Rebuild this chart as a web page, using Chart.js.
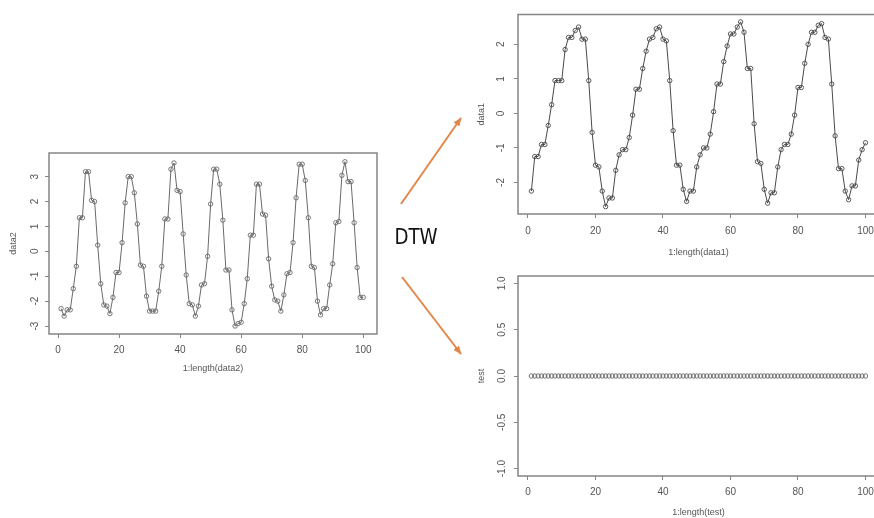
<!DOCTYPE html>
<html>
<head>
<meta charset="utf-8">
<script src="https://cdn.jsdelivr.net/npm/chart.js@4.4.1/dist/chart.umd.min.js"></script>
<style>
  html, body { margin: 0; padding: 0; background: #fff; }
  body { position: relative; width: 874px; height: 518px; overflow: hidden; }
  canvas { position: absolute; }
  svg { position: absolute; left: 0; top: 0; }
</style>
</head>
<body>
<canvas id="data2Chart" width="395" height="240" style="left:0;top:140px;width:395px;height:240px"></canvas>
<canvas id="data1Chart" width="420" height="265" style="left:470px;top:0;width:420px;height:265px"></canvas>
<canvas id="testChart" width="420" height="270" style="left:470px;top:262px;width:420px;height:270px"></canvas>

<svg width="874" height="518">
  <defs>
    <marker id="head" markerWidth="9" markerHeight="8" refX="8" refY="4" orient="auto" markerUnits="userSpaceOnUse">
      <path d="M0,0.5 L9,4 L0,7.5 z" fill="#e2874a"/>
    </marker>
  </defs>
  <line x1="401" y1="204" x2="461" y2="118" stroke="#e2874a" stroke-width="2" marker-end="url(#head)"/>
  <line x1="402" y1="277" x2="461" y2="354" stroke="#e2874a" stroke-width="2" marker-end="url(#head)"/>
  <text transform="translate(416,244) scale(0.83,1)" text-anchor="middle" font-family="DejaVu Sans" font-size="22" fill="#111">DTW</text>
</svg>

<script>
// series (index 1..100)
const data2 = [
    -2.3, -2.6, -2.35, -2.35, -1.5, -0.6, 1.35, 1.35, 3.2, 3.2,
    2.05, 2.0, 0.25, -1.3, -2.15, -2.2, -2.5, -1.85, -0.85, -0.85,
    0.35, 1.95, 3.0, 3.0, 2.35, 1.1, -0.55, -0.6, -1.8, -2.4,
    -2.4, -2.4, -1.6, -0.6, 1.3, 1.3, 3.3, 3.55, 2.45, 2.4,
    0.7, -0.95, -2.1, -2.15, -2.6, -2.2, -1.35, -1.3, -0.2, 1.9,
    3.3, 3.3, 2.7, 1.25, -0.75, -0.75, -2.35, -3.0, -2.9, -2.85,
    -2.1, -1.1, 0.65, 0.65, 2.7, 2.7, 1.5, 1.45, -0.3, -1.4,
    -1.95, -2.0, -2.4, -1.75, -0.9, -0.85, 0.35, 2.15, 3.5, 3.5,
    2.85, 1.35, -0.6, -0.65, -2.0, -2.55, -2.3, -2.3, -1.35, -0.5,
    1.15, 1.2, 3.05, 3.6, 2.8, 2.8, 1.15, -0.65, -1.85, -1.85
];

const data1 = [
    -2.25, -1.25, -1.25, -0.9, -0.9, -0.35, 0.25, 0.95, 0.95, 0.95,
    1.85, 2.2, 2.2, 2.4, 2.5, 2.15, 2.15, 0.95, -0.55, -1.5,
    -1.55, -2.25, -2.7, -2.45, -2.45, -1.65, -1.2, -1.05, -1.05, -0.7,
    -0.05, 0.7, 0.7, 1.3, 1.8, 2.15, 2.2, 2.45, 2.5, 2.15,
    2.1, 0.95, -0.5, -1.5, -1.5, -2.2, -2.55, -2.25, -2.25, -1.55,
    -1.2, -1.0, -1.0, -0.6, 0.05, 0.85, 0.85, 1.5, 1.95, 2.3,
    2.3, 2.5, 2.65, 2.35, 1.3, 1.3, -0.3, -1.4, -1.45, -2.2,
    -2.6, -2.3, -2.3, -1.55, -1.05, -0.9, -0.9, -0.6, -0.05, 0.75,
    0.75, 1.45, 2.0, 2.35, 2.35, 2.55, 2.6, 2.2, 2.15, 0.85,
    -0.65, -1.6, -1.6, -2.25, -2.5, -2.1, -2.1, -1.35, -1.05, -0.85
];

const test = [
    0, 0, 0, 0, 0, 0, 0, 0, 0, 0,
    0, 0, 0, 0, 0, 0, 0, 0, 0, 0,
    0, 0, 0, 0, 0, 0, 0, 0, 0, 0,
    0, 0, 0, 0, 0, 0, 0, 0, 0, 0,
    0, 0, 0, 0, 0, 0, 0, 0, 0, 0,
    0, 0, 0, 0, 0, 0, 0, 0, 0, 0,
    0, 0, 0, 0, 0, 0, 0, 0, 0, 0,
    0, 0, 0, 0, 0, 0, 0, 0, 0, 0,
    0, 0, 0, 0, 0, 0, 0, 0, 0, 0,
    0, 0, 0, 0, 0, 0, 0, 0, 0, 0
];

const xTicks = [0, 20, 40, 60, 80, 100];
const data2Ticks = [-3, -2, -1, 0, 1, 2, 3];
const data1Ticks = [-2, -1, 0, 1, 2];
const testTicks = [-1.0, -0.5, 0.0, 0.5, 1.0];

const axisGrey = '#858585';
const textGrey = '#555555';
const tickFont = { family: "'Liberation Sans', Arial, sans-serif", size: 10 };
const titleFont = { family: "'Liberation Sans', Arial, sans-serif", size: 9 };

// R draws box() round the plot region
const rBox = {
    id: 'rBox',
    afterDraw(chart) {
        const { ctx, chartArea: a } = chart;
        ctx.save();
        ctx.strokeStyle = axisGrey;
        ctx.lineWidth = 1.5;
        ctx.strokeRect(a.left, a.top, a.right - a.left, a.bottom - a.top);
        ctx.restore();
    }
};

function toPoints(values) {
    return values.map((v, i) => ({ x: i + 1, y: v }));
}

function fixTicks(values) {
    return scale => { scale.ticks = values.map(v => ({ value: v })); };
}

function rPlot(id, values, o) {
    return new Chart(document.getElementById(id), {
        type: 'line',
        data: {
            datasets: [{
                data: toPoints(values),
                showLine: o.showLine,
                borderColor: o.color,
                borderWidth: 1,
                pointRadius: 2.2,
                pointBorderWidth: 0.9,
                pointBorderColor: o.color,
                pointBackgroundColor: 'rgba(0,0,0,0)',
                tension: 0
            }]
        },
        options: {
            responsive: false,
            animation: false,
            events: [],
            layout: { padding: { left: 0, top: o.top, right: o.right, bottom: 0 } },
            plugins: { legend: { display: false }, tooltip: { enabled: false } },
            scales: {
                x: {
                    type: 'linear',
                    min: o.xMin,
                    max: o.xMax,
                    afterBuildTicks: fixTicks(xTicks),
                    afterFit: s => { s.height = o.xHeight; },
                    border: { display: false },
                    grid: { drawOnChartArea: false, tickLength: 4, color: axisGrey },
                    ticks: { font: tickFont, color: textGrey, padding: o.xPad, maxRotation: 0, autoSkip: false },
                    title: { display: true, text: o.xTitle, font: titleFont, color: textGrey, padding: { top: 0, bottom: o.xTitlePad } }
                },
                y: {
                    type: 'linear',
                    min: o.yMin,
                    max: o.yMax,
                    afterBuildTicks: fixTicks(o.yTicks),
                    afterFit: s => { s.width = o.yWidth; },
                    border: { display: false },
                    grid: { drawOnChartArea: false, tickLength: 4, color: axisGrey },
                    ticks: {
                        font: tickFont, color: textGrey, padding: o.yPad,
                        minRotation: 90, maxRotation: 90, crossAlign: 'center', autoSkip: false,
                        callback: o.yFmt
                    },
                    title: { display: true, text: o.yTitle, font: titleFont, color: textGrey, padding: { top: o.yTitlePad, bottom: 0 } }
                }
            }
        },
        plugins: [rBox]
    });
}

rPlot('data2Chart', data2, {
    color: '#6a6a6a', showLine: true,
    xMin: -2.95, xMax: 104.5, yMin: -3.32, yMax: 3.95, yTicks: data2Ticks,
    yFmt: v => String(v),
    xTitle: '1:length(data2)', yTitle: 'data2',
    top: 13, right: 18, yWidth: 49, xHeight: 46,
    xPad: 6, xTitlePad: 5.6, yPad: 5.5, yTitlePad: 8
});

rPlot('data1Chart', data1, {
    color: '#4a4a4a', showLine: true,
    xMin: -2.96, xMax: 104, yMin: -2.914, yMax: 2.864, yTicks: data1Ticks,
    yFmt: v => String(v),
    xTitle: '1:length(data1)', yTitle: 'data1',
    top: 14, right: 11, yWidth: 48, xHeight: 51,
    xPad: 7, xTitlePad: 6.6, yPad: 8.5, yTitlePad: 6.6
});

rPlot('testChart', test, {
    color: '#666666', showLine: false,
    xMin: -2.96, xMax: 104, yMin: -1.08, yMax: 1.08, yTicks: testTicks,
    yFmt: v => v.toFixed(1),
    xTitle: '1:length(test)', yTitle: 'test',
    top: 14, right: 11, yWidth: 48, xHeight: 56,
    xPad: 6.3, xTitlePad: 13.9, yPad: 3.5, yTitlePad: 6.6
});
</script>
</body>
</html>
